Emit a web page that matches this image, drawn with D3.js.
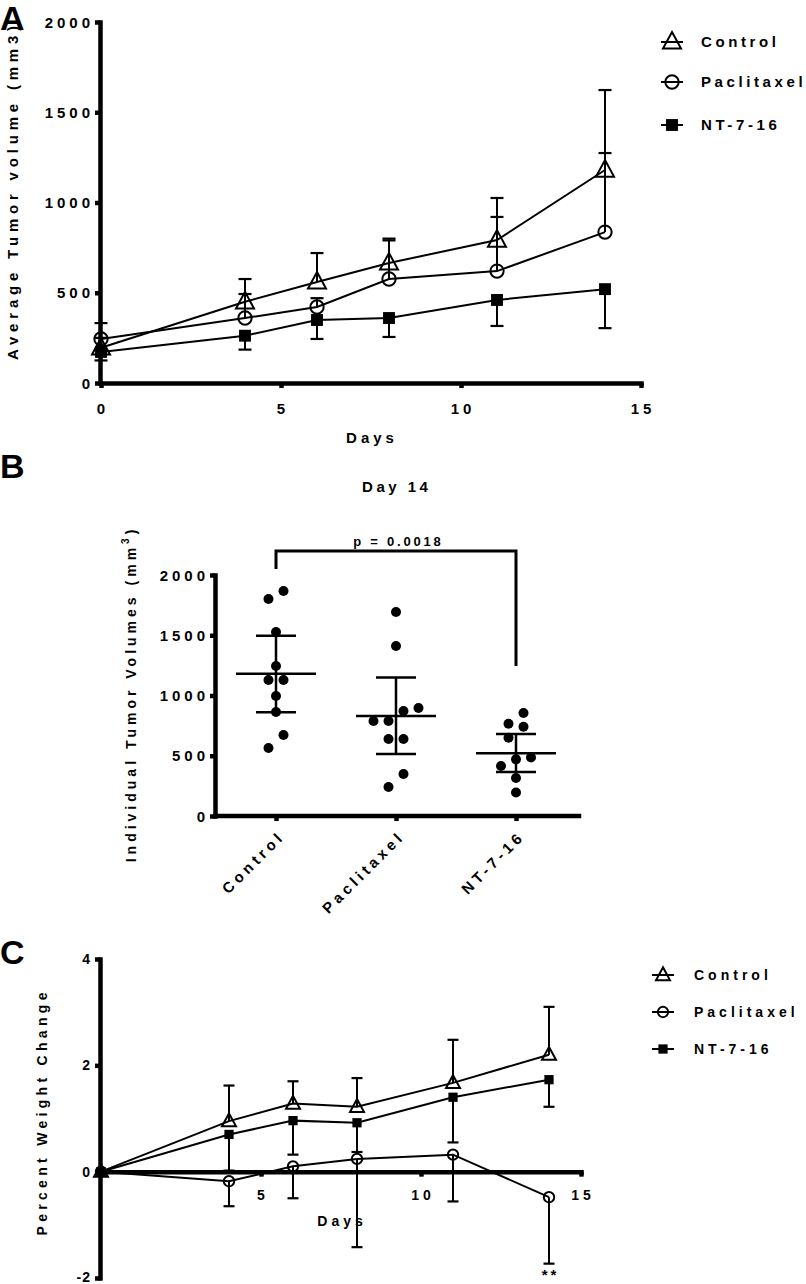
<!DOCTYPE html>
<html><head><meta charset="utf-8">
<script src="https://cdn.jsdelivr.net/npm/d3@7"></script>
<style>
body{margin:0;background:#fff}
svg{display:block}
text{font-family:"Liberation Sans",Arial,sans-serif;font-weight:bold;fill:#000}
</style></head><body>
<script>
// ---------- DATA ----------
// Panel A: average tumor volume
const daysA = [0, 4, 6, 8, 11, 14];
const controlA = [195, 450, 560, 665, 792, 1180];
const controlAUpper = [250, 576, 720, 790, 1025, 1623];
const paclitaxelA = [244, 360, 421, 576, 620, 836];
const paclitaxelAUpper = [332, 493, 470, 800, 920, 1274];
const ntA = [172, 262, 349, 360, 460, 520];
const ntALower = [125, 185, 244, 255, 316, 304];
const yTicksA = [0, 500, 1000, 1500, 2000];
const xTicksA = [0, 5, 10, 15];

// Panel B: individual tumor volumes on day 14
const groupsB = ["Control", "Paclitaxel", "NT-7-16"];
const controlB = [1867, 1801, 1527, 1245, 1129, 1129, 996, 863, 672, 564];
const paclitaxelB = [1693, 1411, 896, 871, 788, 788, 639, 639, 349, 241];
const ntB = [855, 765, 740, 650, 485, 470, 415, 315, 195];
const meanB = [1180, 830, 520];
const ciLowB = [860, 515, 365];
const ciHighB = [1495, 1150, 680];
const yTicksB = [0, 500, 1000, 1500, 2000];
const pLabel = "p = 0.0018";

// Panel C: percent weight change
const daysC = [0, 4, 6, 8, 11, 14];
const controlC = [0, 0.95, 1.28, 1.22, 1.67, 2.2];
const controlCUpper = [0, 1.62, 1.7, 1.76, 2.48, 3.1];
const paclitaxelC = [0, -0.18, 0.1, 0.24, 0.32, -0.48];
const paclitaxelCLower = [0, -0.65, -0.5, -1.42, -0.56, -1.73];
const ntC = [0, 0.7, 0.96, 0.92, 1.4, 1.73];
const ntCLower = [0, 0.02, 0.32, 0.37, 0.55, 1.22];
const yTicksC = [-2, 0, 2, 4];
const xTicksC = [5, 10, 15];

const seriesNames = ["Control", "Paclitaxel", "NT-7-16"];

// ---------- SETUP ----------
const W = 806, H = 1284;
const svg = d3.select("body").append("svg").attr("width", W).attr("height", H);

function txt(g, x, y, s, o = {}) {
  const ls = o.ls ?? 0, anchor = o.anchor || "start", size = o.size || 15;
  let dx = 0;
  if (anchor === "end") dx = ls; else if (anchor === "middle") dx = ls / 2;
  const t = g.append("text").attr("x", x).attr("y", y).attr("dx", dx)
    .attr("font-size", size).attr("letter-spacing", ls).attr("text-anchor", anchor).text(s);
  if (o.rotate != null) t.attr("transform", `rotate(${o.rotate},${x},${y})`);
  return t;
}

function marker(g, type, x, y, sz) {
  if (type === "tri") {
    const w = sz, h = sz * 0.92;
    g.append("path").attr("d", `M${x},${y - h * 0.6}L${x + w / 2},${y + h * 0.4}L${x - w / 2},${y + h * 0.4}Z`)
      .attr("fill", "none").attr("stroke", "#000").attr("stroke-width", 2).attr("stroke-linejoin", "miter");
  } else if (type === "circ") {
    g.append("circle").attr("cx", x).attr("cy", y).attr("r", sz * 0.37)
      .attr("fill", "none").attr("stroke", "#000").attr("stroke-width", 2);
  } else {
    const s = sz * 0.66;
    g.append("rect").attr("x", x - s / 2).attr("y", y - s / 2).attr("width", s).attr("height", s).attr("fill", "#000");
  }
}

function styleAxis(g, w) {
  g.select(".domain").attr("stroke-width", w).attr("stroke", "#000").attr("stroke-linecap", "square");
  g.selectAll(".tick line").attr("stroke-width", w).attr("stroke", "#000");
  g.selectAll(".tick text").remove();
}

function lineChart(g, x, y, days, series, opts) {
  const line = d3.line().x((d, i) => x(days[i])).y(d => y(d));
  series.forEach(s => {
    g.append("path").attr("d", line(s.vals)).attr("fill", "none").attr("stroke", "#000").attr("stroke-width", 2);
  });
  series.forEach(s => {
    s.err.forEach((e, i) => {
      const xx = x(days[i]);
      if (Math.abs(y(e) - y(s.vals[i])) < 0.5) return;
      g.append("line").attr("x1", xx).attr("x2", xx).attr("y1", y(s.vals[i])).attr("y2", y(e))
        .attr("stroke", "#000").attr("stroke-width", 2);
      g.append("line").attr("x1", xx - opts.cap / 2).attr("x2", xx + opts.cap / 2).attr("y1", y(e)).attr("y2", y(e))
        .attr("stroke", "#000").attr("stroke-width", 2.2);
    });
  });
  series.forEach(s => {
    s.vals.forEach((v, i) => marker(g, s.type, x(days[i]), y(v), opts.msize));
  });
}

function legend(g, x0, ys, types, names, msize, size, ls, gap) {
  types.forEach((t, i) => {
    g.append("line").attr("x1", x0 - 11).attr("x2", x0 + 11).attr("y1", ys[i]).attr("y2", ys[i])
      .attr("stroke", "#000").attr("stroke-width", 2);
    marker(g, t, x0, ys[i], msize);
    txt(g, x0 + gap, ys[i] + size * 0.36, names[i], { size: size, ls: ls });
  });
}

// ---------- PANEL A ----------
{
  const g = svg.append("g");
  const x = d3.scaleLinear([0, 15], [101, 641]);
  const y = d3.scaleLinear([0, 2000], [383, 22]);
  const ay = g.append("g").attr("transform", "translate(100,0)")
    .call(d3.axisLeft(y).tickValues(yTicksA).tickSize(5).tickSizeOuter(0));
  styleAxis(ay, 4.5);
  const ax = g.append("g").attr("transform", "translate(0,383)")
    .call(d3.axisBottom(x).tickValues(xTicksA).tickSize(5).tickSizeOuter(0));
  styleAxis(ax, 4.5);
  yTicksA.forEach(v => txt(g, 90, y(v) + 5.5, String(v), { anchor: "end", ls: 4 }));
  xTicksA.forEach(v => txt(g, x(v), 414, String(v), { anchor: "middle", ls: 4 }));
  txt(g, 370, 443, "Days", { anchor: "middle", ls: 4 });
  txt(g, 18, 193, "Average Tumor volume (mm3)", { anchor: "middle", ls: 4.8, rotate: -90 });
  txt(g, 0, 30, "A", { size: 34 });
  lineChart(g, x, y, daysA, [
    { vals: controlA, err: controlAUpper, type: "tri" },
    { vals: paclitaxelA, err: paclitaxelAUpper, type: "circ" },
    { vals: ntA, err: ntALower, type: "sq" }
  ], { cap: 13, msize: 18 });
  legend(g, 672, [42, 82, 125], ["tri", "circ", "sq"], seriesNames, 18, 15, 3.6, 29);
}

// ---------- PANEL B ----------
{
  const g = svg.append("g");
  const x = d3.scalePoint(groupsB, [276, 516]);
  const y = d3.scaleLinear([0, 2000], [816, 575]);
  const ay = g.append("g").attr("transform", "translate(215,0)")
    .call(d3.axisLeft(y).tickValues(yTicksB).tickSize(5).tickSizeOuter(0));
  styleAxis(ay, 4.5);
  const ax = g.append("g").attr("transform", "translate(0,816)")
    .call(d3.axisBottom(x).tickSize(5).tickSizeOuter(0));
  styleAxis(ax, 4.5);
  ax.select(".domain").attr("d", "M215,0H579");
  yTicksB.forEach(v => txt(g, 205, y(v) + 5.5, String(v), { anchor: "end", ls: 4 }));
  groupsB.forEach(c => txt(g, x(c) + 7, 840, c, { anchor: "end", ls: 4, rotate: -45 }));
  txt(g, 395, 492, "Day 14", { anchor: "middle", ls: 3.5 });
  txt(g, 136, 696, "Individual Tumor Volumes (mm", { anchor: "middle", ls: 4, size: 14, rotate: -90 })
    .append("tspan").attr("font-size", 10).attr("dy", -7).text("3").attr("letter-spacing", 4)
    .select(function () { return this.parentNode; })
    .append("tspan").attr("dy", 7).text(")");
  txt(g, 0, 478, "B", { size: 34 });

  // bracket
  const by = 551;
  g.append("path").attr("d", `M${x("Control")},569V${by}H${x("NT-7-16")}V666`)
    .attr("fill", "none").attr("stroke", "#000").attr("stroke-width", 3);
  txt(g, 397, 546, pLabel, { anchor: "middle", ls: 2.8, size: 13 });

  // points with row-based swarm
  const sets = [controlB, paclitaxelB, ntB];
  const r = 5, step = 15, thr = 13.5;
  sets.forEach((vals, gi) => {
    const cx = x(groupsB[gi]);
    const sorted = [...vals].sort((a, b) => b - a);
    const rows = [];
    sorted.forEach(v => {
      const last = rows[rows.length - 1];
      if (last && Math.abs(y(last[0]) - y(v)) < thr) last.push(v); else rows.push([v]);
    });
    rows.forEach(row => {
      const rr = [...row].sort((a, b) => a - b);
      rr.forEach((v, i) => {
        g.append("circle").attr("cx", cx + (i - (rr.length - 1) / 2) * step).attr("cy", y(v)).attr("r", r).attr("fill", "#000");
      });
    });
    // mean and CI
    g.append("line").attr("x1", cx - 40).attr("x2", cx + 40).attr("y1", y(meanB[gi])).attr("y2", y(meanB[gi]))
      .attr("stroke", "#000").attr("stroke-width", 2.5);
    g.append("line").attr("x1", cx).attr("x2", cx).attr("y1", y(ciLowB[gi])).attr("y2", y(ciHighB[gi]))
      .attr("stroke", "#000").attr("stroke-width", 2.5);
    [ciLowB[gi], ciHighB[gi]].forEach(v => g.append("line").attr("x1", cx - 20).attr("x2", cx + 20)
      .attr("y1", y(v)).attr("y2", y(v)).attr("stroke", "#000").attr("stroke-width", 2.5));
  });
}

// ---------- PANEL C ----------
{
  const g = svg.append("g");
  const x = d3.scaleLinear([0, 15], [101, 581]);
  const y = d3.scaleLinear([-2, 4], [1278, 959]);
  const ay = g.append("g").attr("transform", "translate(100,0)")
    .call(d3.axisLeft(y).tickValues(yTicksC).tickSize(5).tickSizeOuter(0));
  styleAxis(ay, 4.5);
  const ax = g.append("g").attr("transform", `translate(0,${y(0)})`)
    .call(d3.axisBottom(x).tickValues(xTicksC).tickSize(5).tickSizeOuter(0));
  styleAxis(ax, 4.5);
  yTicksC.forEach(v => txt(g, 90, Math.min(y(v) + 5, 1282), String(v), { anchor: "end", ls: 1, size: 14 }));
  xTicksC.forEach(v => txt(g, x(v), 1200, String(v), { anchor: "middle", ls: 4, size: 14 }));
  txt(g, 340, 1226, "Days", { anchor: "middle", ls: 4, size: 14 });
  txt(g, 47, 1114, "Percent Weight Change", { anchor: "middle", ls: 4.3, size: 14, rotate: -90 });
  txt(g, 0, 964, "C", { size: 34 });
  lineChart(g, x, y, daysC, [
    { vals: controlC, err: controlCUpper, type: "tri" },
    { vals: paclitaxelC, err: paclitaxelCLower, type: "circ" },
    { vals: ntC, err: ntCLower, type: "sq" }
  ], { cap: 11, msize: 14 });
  txt(g, x(14), 1280, "**", { anchor: "middle", ls: 3, size: 15 });
  legend(g, 663, [975, 1012, 1049], ["tri", "circ", "sq"], seriesNames, 14, 14, 4, 31);
}
</script>
</body></html>
